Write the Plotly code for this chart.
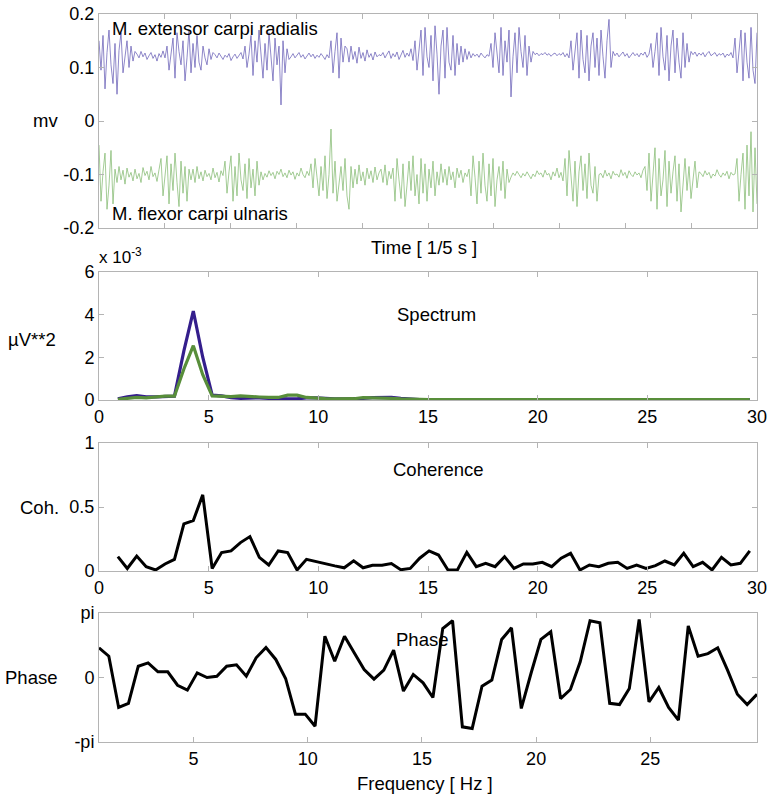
import plotly.graph_objects as go

# ---------------- data ----------------
# EMG traces (mv), sampled along the time axis
emg_extensor = [
    0.150, 0.095, 0.160, 0.060, 0.128, 0.170, 0.105, 0.070, 0.145, 0.050, 0.132,
    0.165, 0.090, 0.120, 0.150, 0.100, 0.140, 0.112, 0.130,
    0.125, 0.118, 0.130, 0.120, 0.127, 0.115, 0.122, 0.128, 0.117, 0.124, 0.112, 0.126, 0.119, 0.131, 0.118,
    0.140, 0.095, 0.122, 0.155, 0.080, 0.165, 0.130, 0.105, 0.150, 0.075, 0.118, 0.170, 0.090, 0.145, 0.100, 0.160, 0.110,
    0.095, 0.140, 0.118, 0.105, 0.135, 0.115, 0.128,
    0.124, 0.118, 0.127, 0.121, 0.115, 0.123, 0.119, 0.126, 0.113, 0.120, 0.125, 0.117, 0.122, 0.128, 0.116,
    0.140, 0.100, 0.125, 0.160, 0.085, 0.150, 0.110, 0.170, 0.130, 0.080, 0.145, 0.095, 0.165, 0.120, 0.075, 0.155,
    0.105, 0.140, 0.030, 0.150, 0.090, 0.135, 0.115,
    0.120, 0.126, 0.118, 0.123, 0.128, 0.119, 0.124, 0.116, 0.122, 0.127, 0.120, 0.125, 0.117, 0.123, 0.119, 0.126,
    0.121, 0.115, 0.124, 0.118,
    0.150, 0.090, 0.130, 0.165, 0.080, 0.155, 0.110, 0.140,
    0.135, 0.110, 0.140, 0.115, 0.130, 0.108, 0.138, 0.117, 0.128, 0.112, 0.133, 0.119, 0.126, 0.114, 0.129, 0.120, 0.124,
    0.122, 0.128, 0.118, 0.125, 0.131, 0.117, 0.126, 0.120, 0.129, 0.115, 0.124, 0.132, 0.119, 0.127, 0.121, 0.135, 0.113,
    0.150, 0.095, 0.130, 0.170, 0.085, 0.175, 0.120, 0.100, 0.160, 0.075, 0.178, 0.125, 0.050, 0.140, 0.170, 0.080,
    0.175, 0.110, 0.095, 0.160, 0.085, 0.145, 0.105,
    0.140, 0.110, 0.135, 0.115, 0.130, 0.118, 0.126, 0.121, 0.125, 0.119, 0.127, 0.122, 0.118, 0.124, 0.121,
    0.145, 0.100, 0.165, 0.125, 0.090, 0.175, 0.085, 0.150, 0.110, 0.170, 0.045, 0.120, 0.165, 0.090, 0.175, 0.130,
    0.100, 0.160, 0.085, 0.140, 0.110, 0.130,
    0.124, 0.127, 0.122, 0.126, 0.124, 0.128, 0.123, 0.126, 0.121, 0.125, 0.127, 0.122, 0.126, 0.123, 0.128, 0.120,
    0.126, 0.118,
    0.150, 0.095, 0.130, 0.165, 0.080, 0.170, 0.115, 0.090, 0.160, 0.075, 0.140, 0.165, 0.100, 0.155, 0.085, 0.170,
    0.120, 0.080, 0.150, 0.190, 0.100, 0.130,
    0.122, 0.127, 0.120, 0.125, 0.129, 0.121, 0.126, 0.118, 0.124, 0.128, 0.122, 0.126, 0.120, 0.127, 0.123, 0.129,
    0.119, 0.125,
    0.145, 0.100, 0.130, 0.165, 0.085, 0.175, 0.120, 0.095, 0.160, 0.075, 0.140, 0.170, 0.090, 0.155, 0.110, 0.080,
    0.165, 0.100, 0.145, 0.110, 0.130,
    0.124, 0.129, 0.121, 0.127, 0.123, 0.128, 0.120, 0.126, 0.130, 0.122, 0.125, 0.128, 0.121, 0.126, 0.123, 0.127,
    0.119, 0.125, 0.122, 0.128, 0.118,
    0.155, 0.090, 0.130, 0.170, 0.075, 0.165, 0.110, 0.080, 0.175, 0.095, 0.070, 0.165,
]

emg_flexor = [
    -0.045, -0.150, -0.095, -0.060, -0.165, -0.120, -0.055, -0.155, -0.090,
    -0.115, -0.085, -0.110, -0.092, -0.118, -0.088, -0.105, -0.096, -0.112, -0.090, -0.108, -0.098, -0.115, -0.087,
    -0.102, -0.094, -0.110, -0.085, -0.104, -0.097, -0.113, -0.091,
    -0.070, -0.140, -0.100, -0.065, -0.155, -0.080, -0.130, -0.060, -0.115, -0.160, -0.075, -0.135, -0.085, -0.150, -0.090,
    -0.110, -0.090, -0.115, -0.085, -0.108, -0.095, -0.112, -0.092, -0.104, -0.098, -0.110, -0.088, -0.106, -0.096,
    -0.114, -0.093, -0.102,
    -0.075, -0.135, -0.095, -0.065, -0.150, -0.085, -0.140, -0.060, -0.110, -0.130, -0.080, -0.145, -0.070, -0.125,
    -0.090, -0.140, -0.075, -0.120, -0.095, -0.110,
    -0.098, -0.105, -0.093, -0.102, -0.096, -0.108, -0.094, -0.100, -0.090, -0.104, -0.097, -0.106, -0.092, -0.101,
    -0.095, -0.109, -0.097, -0.103, -0.088, -0.100, -0.106, -0.094, -0.102,
    -0.080, -0.125, -0.070, -0.105, -0.140, -0.085, -0.130, -0.065, -0.145, -0.100, -0.015, -0.135, -0.075, -0.150,
    -0.110, -0.085, -0.130,
    -0.070, -0.140, -0.165, -0.085, -0.125, -0.090, -0.118, -0.082, -0.112, -0.095, -0.120, -0.088, -0.108, -0.093,
    -0.115, -0.086, -0.110, -0.097,
    -0.090, -0.115, -0.082, -0.120, -0.094, -0.108, -0.088,
    -0.150, -0.070, -0.110, -0.145, -0.080, -0.160, -0.120, -0.075, -0.130, -0.065, -0.140, -0.100, -0.155, -0.070,
    -0.135, -0.080, -0.150, -0.090, -0.125, -0.075, -0.140, -0.095, -0.120,
    -0.080, -0.115, -0.090, -0.120, -0.085, -0.110, -0.095, -0.125, -0.088, -0.106, -0.092, -0.115, -0.097, -0.104, -0.090,
    -0.140, -0.065, -0.105, -0.155, -0.075, -0.135, -0.060, -0.120, -0.150, -0.080, -0.140, -0.070, -0.160, -0.110,
    -0.085, -0.130, -0.075, -0.145, -0.090, -0.115,
    -0.105, -0.097, -0.102, -0.094, -0.100, -0.106, -0.098, -0.103, -0.095, -0.101, -0.108, -0.099, -0.104, -0.093,
    -0.100, -0.097, -0.105, -0.092, -0.101, -0.098, -0.110, -0.095, -0.103, -0.088, -0.106, -0.096, -0.112,
    -0.070, -0.140, -0.055, -0.110, -0.150, -0.075, -0.160, -0.095, -0.065, -0.130, -0.080, -0.145, -0.060, -0.120,
    -0.135, -0.085, -0.150, -0.100,
    -0.098, -0.106, -0.092, -0.103, -0.097, -0.108, -0.094, -0.101, -0.099, -0.105, -0.091, -0.102, -0.096, -0.107,
    -0.093, -0.100, -0.104, -0.095, -0.101, -0.097, -0.106, -0.092,
    -0.085, -0.130, -0.060, -0.150, -0.100, -0.050, -0.165, -0.070, -0.140, -0.110, -0.055, -0.160, -0.075, -0.135,
    -0.095, -0.065, -0.150, -0.080, -0.170, -0.120, -0.070, -0.130, -0.085, -0.145, -0.105, -0.075, -0.125, -0.095,
    -0.098, -0.104, -0.093, -0.101, -0.096, -0.107, -0.099, -0.103, -0.091, -0.100, -0.105, -0.097, -0.102, -0.094,
    -0.108, -0.096, -0.101, -0.099,
    -0.070, -0.150, -0.100, -0.060, -0.165, -0.045, -0.140, -0.020, -0.170, -0.050, -0.155,
]

# frequency grid (Hz)
freq = [0.86, 1.29, 1.72, 2.15, 2.58, 3.01, 3.44, 3.87, 4.30, 4.73, 5.16, 5.59, 6.02, 6.45, 6.88, 7.31, 7.74,
        8.17, 8.60, 9.03, 9.46, 9.89, 10.32, 10.75, 11.18, 11.61, 12.04, 12.47, 12.90, 13.33, 13.76, 14.19,
        14.62, 15.05, 15.48, 15.91, 16.34, 16.77, 17.20, 17.63, 18.06, 18.49, 18.92, 19.35, 19.78, 20.21,
        20.64, 21.07, 21.50, 21.93, 22.36, 22.79, 23.22, 23.65, 24.08, 24.51, 24.94, 25.37, 25.80, 26.23,
        26.66, 27.09, 27.52, 27.95, 28.38, 28.81, 29.24, 29.67]

# spectra (x 10^-3 µV**2)
spec_extensor = [0.05, 0.15, 0.20, 0.15, 0.15, 0.18, 0.18, 2.30, 4.16, 2.00, 0.23, 0.19, 0.11, 0.08, 0.10, 0.10,
                 0.08, 0.05, 0.05, 0.05, 0.10, 0.10, 0.06, 0.05, 0.05, 0.05, 0.08, 0.11, 0.12, 0.12, 0.08, 0.04,
                 0.02, 0.02, 0.02, 0.02, 0.02, 0.02, 0.02, 0.02, 0.02, 0.02, 0.02, 0.02, 0.02, 0.02, 0.02, 0.02,
                 0.02, 0.02, 0.02, 0.02, 0.02, 0.02, 0.02, 0.02, 0.02, 0.02, 0.02, 0.02, 0.02, 0.02, 0.02, 0.02,
                 0.02, 0.02, 0.02, 0.02]
spec_flexor = [0.03, 0.08, 0.12, 0.10, 0.15, 0.18, 0.18, 1.45, 2.54, 1.18, 0.19, 0.16, 0.16, 0.19, 0.15, 0.14,
               0.12, 0.12, 0.23, 0.23, 0.12, 0.08, 0.06, 0.05, 0.05, 0.06, 0.11, 0.11, 0.10, 0.08, 0.05, 0.03,
               0.02, 0.02, 0.02, 0.02, 0.02, 0.02, 0.02, 0.02, 0.02, 0.02, 0.02, 0.02, 0.02, 0.02, 0.02, 0.02,
               0.02, 0.02, 0.02, 0.02, 0.02, 0.02, 0.02, 0.02, 0.02, 0.02, 0.02, 0.02, 0.02, 0.02, 0.02, 0.02,
               0.02, 0.02, 0.02, 0.02]

coherence = [0.112, 0.020, 0.117, 0.034, 0.008, 0.055, 0.091, 0.368, 0.394, 0.595, 0.020, 0.144, 0.157, 0.222,
             0.269, 0.107, 0.047, 0.157, 0.144, 0.008, 0.091, 0.073, 0.058, 0.040, 0.025, 0.080, 0.025, 0.045,
             0.045, 0.058, 0.010, 0.020, 0.100, 0.157, 0.125, 0.008, 0.008, 0.146, 0.034, 0.060, 0.034, 0.112,
             0.020, 0.055, 0.055, 0.068, 0.034, 0.100, 0.138, 0.008, 0.047, 0.034, 0.060, 0.068, 0.020, 0.047,
             0.020, 0.042, 0.078, 0.047, 0.138, 0.034, 0.068, 0.008, 0.107, 0.047, 0.060, 0.157]

# phase in units of pi
phase = [0.46, 0.33, -0.465, -0.40, 0.175, 0.227, 0.088, 0.088, -0.12, -0.196, 0.072, 0.0, 0.02, 0.175, 0.196,
         0.02, 0.305, 0.465, 0.28, -0.015, -0.568, -0.568, -0.755, 0.64, 0.253, 0.64, 0.38, 0.124, -0.026, 0.114,
         0.424, -0.21, 0.047, -0.083, -0.31, 0.76, 0.88, -0.765, -0.79, -0.134, -0.04, 0.59, 0.77, -0.48, 0.07,
         0.59, 0.71, -0.326, -0.186, 0.243, 0.88, 0.85, -0.40, -0.42, -0.17, 0.90, -0.377, -0.155, -0.465, -0.66,
         0.80, 0.33, 0.37, 0.46, 0.114, -0.26, -0.42, -0.26]

emg_yticks = [-0.2, -0.1, 0, 0.1, 0.2]
emg_yticktext = ["-0.2", "-0.1", "0", "0.1", "0.2"]
spec_yticks = [0, 2, 4, 6]
coh_yticks = [0, 0.5, 1]
coh_yticktext = ["0", "0.5", "1"]
freq_ticks = [0, 5, 10, 15, 20, 25, 30]
phase_xticks = [5, 10, 15, 20, 25]
phase_yticks = [-1, 0, 1]
phase_yticktext = ["-pi", "0", "pi"]

# ---------------- figure ----------------
W, H = 771, 807
FONT = "Liberation Sans, Arial, Helvetica, sans-serif"
AX = "#b4b4b4"
FS = 18

def py(p):
    return 1 - p / H

def px(p):
    return p / W

t = list(range(len(emg_extensor)))
fig = go.Figure()

fig.add_trace(go.Scatter(x=t, y=emg_extensor, mode="lines", line=dict(color="rgb(95,85,178)", width=0.7),
                         xaxis="x", yaxis="y"))
fig.add_trace(go.Scatter(x=t, y=emg_flexor, mode="lines", line=dict(color="rgb(125,182,105)", width=0.7),
                         xaxis="x", yaxis="y"))

fig.add_trace(go.Scatter(x=freq, y=spec_extensor, mode="lines", line=dict(color="rgb(52,30,140)", width=3.2),
                         xaxis="x2", yaxis="y2"))
fig.add_trace(go.Scatter(x=freq, y=spec_flexor, mode="lines", line=dict(color="rgb(88,142,58)", width=3.2),
                         xaxis="x2", yaxis="y2"))

fig.add_trace(go.Scatter(x=freq, y=coherence, mode="lines", line=dict(color="black", width=3),
                         xaxis="x3", yaxis="y3"))

fig.add_trace(go.Scatter(x=freq, y=phase, mode="lines", line=dict(color="black", width=3),
                         xaxis="x4", yaxis="y4"))

xdom = [px(99), px(757)]
doms = [
    [py(228), py(14)],
    [py(400), py(271.7)],
    [py(571), py(443)],
    [py(742), py(613)],
]

common = dict(showline=True, linecolor=AX, linewidth=1, mirror="ticks", ticks="inside", ticklen=5,
              tickcolor=AX, showgrid=False, zeroline=False, automargin=False,
              tickfont=dict(family=FONT, size=FS, color="black"), fixedrange=True)

n = len(t)
time_ticks = [i * (n - 1) / 10 for i in range(11)]

fig.update_layout(
    width=W, height=H, margin=dict(l=0, r=0, t=0, b=0, pad=0),
    paper_bgcolor="white", plot_bgcolor="white", showlegend=False,
    font=dict(family=FONT, size=FS, color="black"),
    xaxis=dict(domain=xdom, anchor="y", range=[0, n - 1], tickvals=time_ticks, showticklabels=False, **common),
    yaxis=dict(domain=doms[0], anchor="x", range=[-0.2, 0.2], tickvals=emg_yticks, ticktext=emg_yticktext, **common),
    xaxis2=dict(domain=xdom, anchor="y2", range=[0, 30], tickvals=freq_ticks, **common),
    yaxis2=dict(domain=doms[1], anchor="x2", range=[0, 6], tickvals=spec_yticks, **common),
    xaxis3=dict(domain=xdom, anchor="y3", range=[0, 30], tickvals=freq_ticks, **common),
    yaxis3=dict(domain=doms[2], anchor="x3", range=[0, 1], tickvals=coh_yticks, ticktext=coh_yticktext, **common),
    xaxis4=dict(domain=xdom, anchor="y4", range=[freq[0], freq[-1]], tickvals=phase_xticks, **common),
    yaxis4=dict(domain=doms[3], anchor="x4", range=[-1, 1], tickvals=phase_yticks, ticktext=phase_yticktext, **common),
)

def note(text, x, y, xanchor="left", size=18.5):
    fig.add_annotation(text=text, x=px(x), y=py(y), xref="paper", yref="paper", xanchor=xanchor,
                       yanchor="middle", showarrow=False, font=dict(family=FONT, size=size, color="black"))

note("M. extensor carpi radialis", 110, 29)
note("M. flexor carpi ulnaris", 110, 213)
note("mv", 31, 121)
note("Time [ 1/5 s ]", 424, 248, xanchor="center")
note("x 10<sup>-3</sup>", 97, 256, size=17)
note("µV**2", 6, 340)
note("Spectrum", 395, 314)
note("Coherence", 391, 469)
note("Coh.", 18, 507)
note("Phase", 394, 639)
note("Phase", 3, 677)
note("Frequency [ Hz ]", 425, 783, xanchor="center")

# remove the default 8 px page margin so the figure fills the window exactly
fig.write_html("out.html", config={"displayModeBar": False},
               post_script="document.body.style.margin='0px';document.body.style.overflow='hidden';")
